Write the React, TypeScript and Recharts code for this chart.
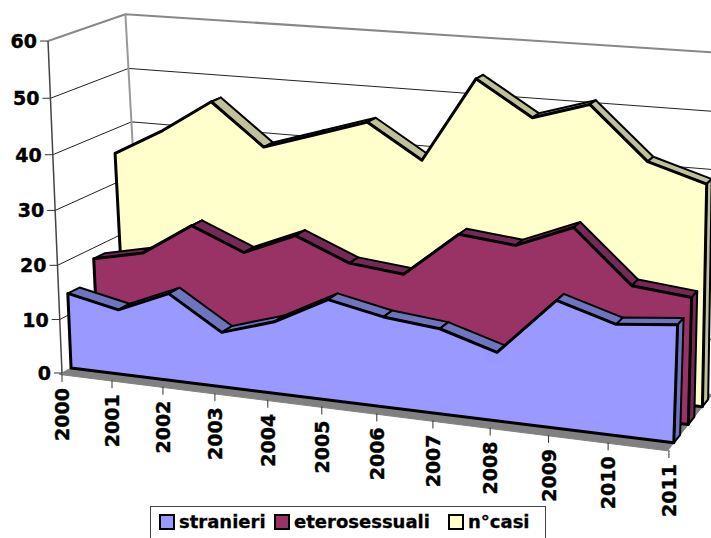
import { ComposedChart, Line, XAxis, YAxis } from "recharts";

const YEARS = ["2000", "2001", "2002", "2003", "2004", "2005", "2006", "2007", "2008", "2009", "2010", "2011"];
const STRANIERI = [14, 12, 16, 10, 13, 18, 16, 15, 12, 22, 19, 20];
const ETEROSESSUALI = [18, 20, 26, 22, 26, 22, 21, 29, 28, 32, 23, 22];
const N_CASI = [35.5, 40.5, 46.5, 39, 42, 45, 39, 54, 48, 51, 42, 39];
const VALUE_TICKS = [0, 10, 20, 30, 40, 50, 60];

const WIDTH = 711;
const HEIGHT = 538;
const FONT = "'DejaVu Sans', Verdana, sans-serif";

/** Excel-style 3D box: t = year 0..1, d = depth 0..1, v = value 0..1 */
function project(t: number, d: number, v: number) {
  const w = 1 - 0.102 * t + 0.0743 * d - 0.04 * v;
  const x = 62 + 538.7 * t + 91.6 * d - 15.9 * v - 8 * d * v;
  const y = 373 + 30.2 * t - 19.6 * d - 333.6 * v - 5 * d * v + 4 * t * d * v;
  return { x: x / w, y: y / w };
}

const at = (i: number, d: number, value: number) => project(i / (YEARS.length - 1), d, value / 60);

const BAND = 0.14;

type Pt = { x: number; y: number; label?: string };

// hidden line, its first dot draws the closed shape through the line's scaled points
function shape(key: string, pts: Pt[], fill: string, stroke: string, sw: number, closed = true) {
  return (
    <Line
      key={key}
      data={pts}
      dataKey="y"
      stroke="none"
      legendType="none"
      isAnimationActive={false}
      activeDot={false}
      dot={(p: any) => {
        if (p.index !== 0) return <g key={p.index} />;
        const d = p.points.map((q: any, n: number) => `${n ? "L" : "M"}${q.x} ${q.y}`).join(" ") + (closed ? "Z" : "");
        return <path key={0} d={d} fill={fill} stroke={stroke} strokeWidth={sw} strokeLinejoin="round" />;
      }}
    />
  );
}

function series(name: string, values: number[], d: number, face: string, side: string) {
  const last = values.length - 1;
  const out = [];
  for (let i = 0; i < last; i++) {
    out.push(
      shape(`${name}-band-${i}`, [at(i, d, values[i]), at(i + 1, d, values[i + 1]), at(i + 1, d + BAND, values[i + 1]), at(i, d + BAND, values[i])], side, "#000", 2),
    );
  }
  out.push(
    shape(`${name}-end`, [at(last, d, 0), at(last, d + BAND, 0), at(last, d + BAND, values[last]), at(last, d, values[last])], side, "#000", 2),
  );
  out.push(
    shape(`${name}-face`, [at(0, d, 0), ...values.map((v, i) => at(i, d, v)), at(last, d, 0)], face, "#000", 3),
  );
  return out;
}

function labels(key: string, pts: Pt[], draw: (q: { x: number; y: number }, label: string) => any) {
  return (
    <Line
      key={key}
      data={pts}
      dataKey="y"
      stroke="none"
      legendType="none"
      isAnimationActive={false}
      activeDot={false}
      dot={(p: any) => <g key={p.index}>{draw({ x: p.cx, y: p.cy }, p.payload.label)}</g>}
    />
  );
}

const LEGEND = [
  { name: "stranieri", color: "#9999ff", left: 8 },
  { name: "eterosessuali", color: "#993366", left: 123 },
  { name: "n°casi", color: "#ffffcc", left: 297 },
];

export default function App() {
  const last = YEARS.length - 1;
  const grid = VALUE_TICKS.filter((v) => v > 0 && v < 60);
  return (
    <div style={{ position: "absolute", left: 0, top: 0, width: WIDTH, height: HEIGHT, overflow: "hidden", background: "#fff" }}>
      <ComposedChart width={WIDTH} height={HEIGHT} margin={{ top: 0, right: 0, bottom: 0, left: 0 }}>
        <XAxis type="number" dataKey="x" domain={[0, WIDTH]} allowDataOverflow hide />
        <YAxis type="number" domain={[0, HEIGHT]} allowDataOverflow reversed hide />

        {/* walls */}
        {grid.map((v) => shape(`grid-${v}`, [at(0, 0, v), at(0, 1, v), at(last, 1, v)], "none", "#222", 1, false))}
        {shape("floor", [at(0, -0.03, 0), at(last, -0.03, 0), at(last, 1, 0), at(0, 1, 0)], "#808080", "#808080", 1)}
        {shape("wall-top", [at(0, 0, 60), at(0, 1, 60), at(last, 1, 60)], "none", "#888", 2, false)}
        {shape("wall-back", [at(0, 1, 60), at(0, 1, 0)], "none", "#999", 2, false)}
        {shape("wall-right", [at(last, 1, 60), at(last, 1, 0)], "none", "#999", 2, false)}
        {shape("wall-left", [at(0, 0, 60), at(0, 0, 0)], "none", "#444", 1.5, false)}

        {series("casi", N_CASI, 0.763, "#ffffcc", "#c0c09a")}
        {series("etero", ETEROSESSUALI, 0.43, "#993366", "#742a56")}
        {series("stranieri", STRANIERI, 0.105, "#9999ff", "#6f74bf")}

        {labels(
          "value-ticks",
          VALUE_TICKS.map((v) => ({ ...at(0, 0, v), label: String(v) })),
          (q, label) => (
            <>
              <line x1={q.x - 8} x2={q.x} y1={q.y} y2={q.y} stroke="#333" />
              <text x={q.x - 11} y={q.y} textAnchor="end" dominantBaseline="central" fontFamily={FONT} fontWeight="bold" fontSize={19} fill="#000" stroke="#000" strokeWidth={0.4}>
                {label}
              </text>
            </>
          ),
        )}
        {labels(
          "year-ticks",
          YEARS.map((year, i) => ({ ...at(i, 0, 0), label: year })),
          (q, label) => (
            <>
              <line x1={q.x} x2={q.x} y1={q.y + 1} y2={q.y + 9} stroke="#333" />
              <text
                x={q.x}
                y={q.y + 15}
                transform={`rotate(-90 ${q.x} ${q.y + 15})`}
                textAnchor="end"
                dominantBaseline="central"
                fontFamily={FONT}
                fontWeight="bold"
                fontSize={19}
                fill="#000"
                stroke="#000"
                strokeWidth={0.4}
              >
                {label}
              </text>
            </>
          ),
        )}
      </ComposedChart>

      <div
        style={{
          position: "absolute",
          left: 150,
          top: 506,
          width: 396,
          height: 32,
          boxSizing: "border-box",
          border: "1px solid #444",
          borderBottom: "none",
          fontFamily: FONT,
          fontWeight: "bold",
          fontSize: 18,
          color: "#000",
          WebkitTextStroke: "0.3px #000",
        }}
      >
        {LEGEND.map((item) => (
          <span key={item.name} style={{ position: "absolute", left: item.left, top: 4, display: "flex", alignItems: "center" }}>
            <span style={{ width: 12, height: 12, background: item.color, border: "2px solid #000", marginRight: 4 }} />
            {item.name}
          </span>
        ))}
      </div>
    </div>
  );
}
